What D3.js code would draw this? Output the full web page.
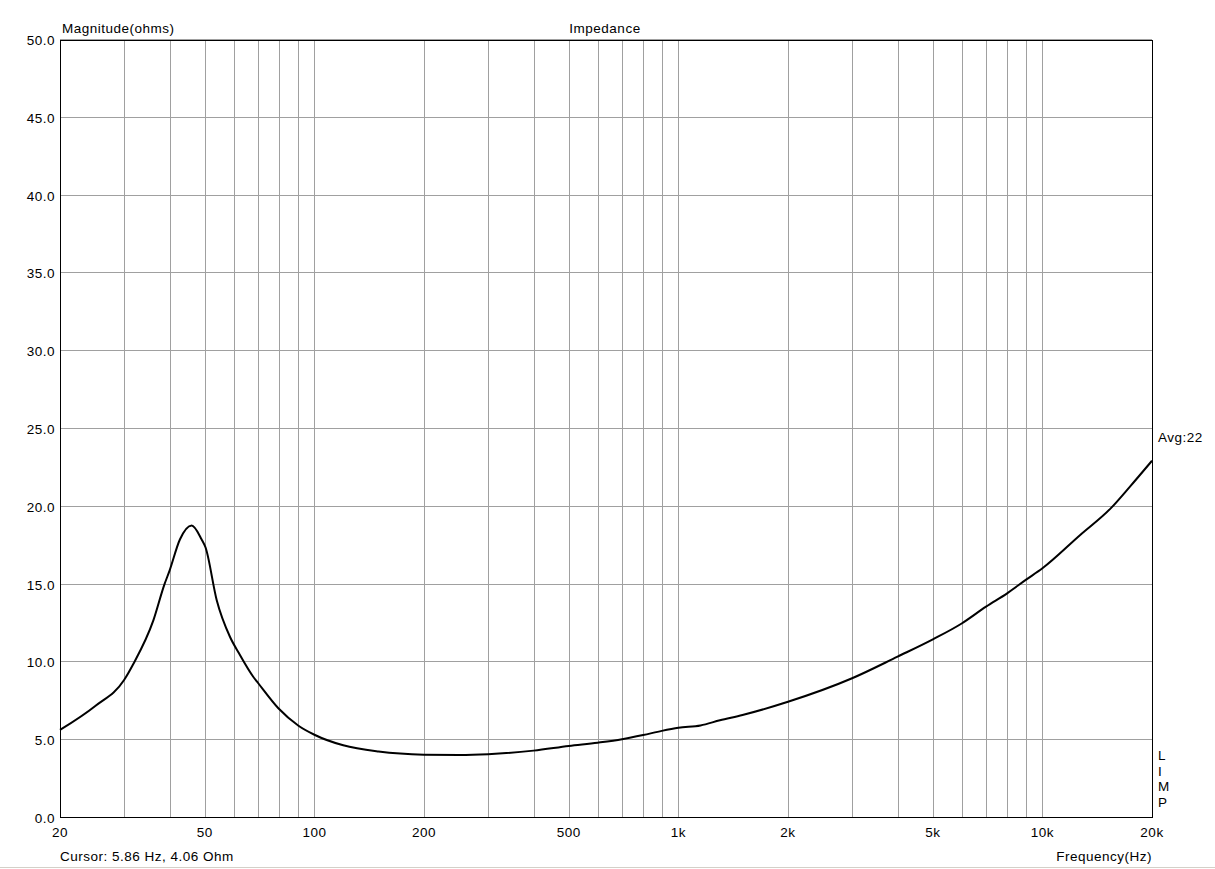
<!DOCTYPE html>
<html>
<head>
<meta charset="utf-8">
<script src="https://cdn.jsdelivr.net/npm/d3@7"></script>
<style>
  body { margin: 0; background: #fff; }
  text { font-family: "Liberation Sans", Arial, sans-serif; font-size: 13.5px; letter-spacing: 0.5px; fill: #000; }
</style>
</head>
<body>
<div id="chart"></div>
<script>
// datos
var freqs = [20, 25, 30, 31.8, 36.1, 38.7, 40, 42.7, 46, 49, 50.2, 53.9, 58.6, 62, 67.9, 70.1, 79.6, 90.4, 100, 120, 150, 200, 250, 300, 400, 500, 600, 700, 800, 900, 1000, 1150, 1300, 1500, 2000, 3000, 4000, 5000, 6000, 7000, 8000, 9000, 10000, 12700, 15400, 17400, 20000];
var ohms  = [5.66, 7.2, 8.87, 9.9, 12.7, 15.0, 15.9, 17.9, 18.8, 17.9, 17.4, 14.0, 11.65, 10.6, 9.08, 8.66, 7.05, 5.93, 5.35, 4.67, 4.27, 4.07, 4.05, 4.1, 4.33, 4.63, 4.84, 5.06, 5.33, 5.6, 5.8, 5.95, 6.28, 6.62, 7.47, 8.98, 10.37, 11.48, 12.5, 13.58, 14.44, 15.3, 16.05, 18.19, 19.9, 21.3, 22.96];

var yTicks = [0, 5, 10, 15, 20, 25, 30, 35, 40, 45, 50];
var xGrid = [30, 40, 50, 60, 70, 80, 90, 100, 200, 300, 400, 500, 600, 700, 800, 900, 1000, 2000, 3000, 4000, 5000, 6000, 7000, 8000, 9000, 10000];
var xLabels = [20, 50, 100, 200, 500, 1000, 2000, 5000, 10000, 20000];
var xLabelText = ["20", "50", "100", "200", "500", "1k", "2k", "5k", "10k", "20k"];

var width = 1215, height = 869;
var plotLeft = 60, plotRight = 1152, plotTop = 40, plotBottom = 818;

var svg = d3.select("#chart").append("svg")
    .attr("width", width)
    .attr("height", height);

var x = d3.scaleLog().domain([20, 20000]).range([plotLeft, plotRight]);
var y = d3.scaleLinear().domain([0, 50]).range([plotBottom, plotTop]);

// rejilla
svg.selectAll(".hgrid").data(yTicks).enter().append("line")
    .attr("x1", plotLeft).attr("x2", plotRight)
    .attr("y1", function(d) { return Math.round(y(d)) - 0.5; })
    .attr("y2", function(d) { return Math.round(y(d)) - 0.5; })
    .attr("stroke", "#a0a0a0");

svg.selectAll(".vgrid").data(xGrid).enter().append("line")
    .attr("y1", plotTop).attr("y2", plotBottom)
    .attr("x1", function(d) { return Math.round(x(d)) + 0.5; })
    .attr("x2", function(d) { return Math.round(x(d)) + 0.5; })
    .attr("stroke", "#a0a0a0");

// marco
svg.append("rect")
    .attr("x", plotLeft + 0.5).attr("y", plotTop + 0.5)
    .attr("width", plotRight - plotLeft).attr("height", plotBottom - plotTop - 1)
    .attr("fill", "none").attr("stroke", "#000");

// etiquetas eje y
svg.selectAll(".ylab").data(yTicks).enter().append("text")
    .attr("x", 55)
    .attr("y", function(d) { return y(d) + 5; })
    .attr("text-anchor", "end")
    .text(function(d) { return d.toFixed(1); });

// etiquetas eje x
svg.selectAll(".xlab").data(xLabels).enter().append("text")
    .attr("x", function(d) { return x(d); })
    .attr("y", 837)
    .attr("text-anchor", "middle")
    .text(function(d, i) { return xLabelText[i]; });

// curva
var data = freqs.map(function(f, i) { return [f, ohms[i]]; });
var line = d3.line()
    .x(function(d) { return x(d[0]); })
    .y(function(d) { return y(d[1]); })
    .curve(d3.curveMonotoneX);

svg.append("path")
    .datum(data)
    .attr("d", line)
    .attr("fill", "none")
    .attr("stroke", "#000")
    .attr("stroke-width", 2);

// textos
svg.append("text").attr("x", 62).attr("y", 33).text("Magnitude(ohms)");
svg.append("text").attr("x", 605).attr("y", 33).attr("text-anchor", "middle").text("Impedance");
svg.append("text").attr("x", 60).attr("y", 861).text("Cursor: 5.86 Hz, 4.06 Ohm");
svg.append("text").attr("x", 1152).attr("y", 861).attr("text-anchor", "end").text("Frequency(Hz)");
svg.append("text").attr("x", 1158).attr("y", 442).text("Avg:22");

var limp = ["L", "I", "M", "P"];
svg.selectAll(".limp").data(limp).enter().append("text")
    .attr("x", 1158)
    .attr("y", function(d, i) { return 760 + i * 15.5; })
    .text(function(d) { return d; });

// borde inferior de la ventana
svg.append("line")
    .attr("x1", 0).attr("x2", width)
    .attr("y1", 867.5).attr("y2", 867.5)
    .attr("stroke", "#d4d0c8");
</script>
</body>
</html>
